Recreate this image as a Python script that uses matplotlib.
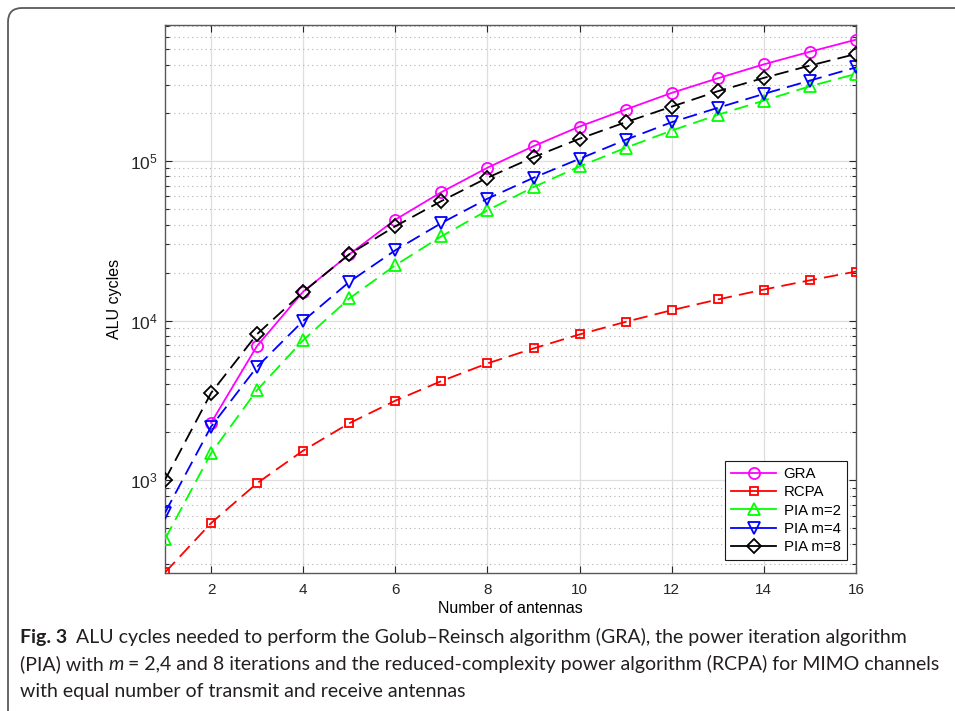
import numpy as np
import matplotlib.pyplot as plt
from matplotlib.patches import FancyBboxPatch
from matplotlib.ticker import LogLocator, NullFormatter, FixedLocator

plt.rcParams['font.family'] = ['Liberation Sans', 'DejaVu Sans']
plt.rcParams['mathtext.fontset'] = 'custom'
plt.rcParams['mathtext.rm'] = 'Liberation Sans'
plt.rcParams['mathtext.it'] = 'Liberation Sans:italic'

# Data
antennas = np.arange(1, 17)
gra_x = np.arange(2, 17)
gra = [2290, 6960, 15200, 26000, 42900, 63800, 90700, 123800,
       164300, 209900, 266900, 329300, 402700, 483000, 574700]
rcpa = [265, 540, 960, 1536, 2278, 3155, 4186, 5400, 6700, 8200,
        9830, 11630, 13570, 15660, 17900, 20300]
pia_m2 = [429, 1479, 3680, 7550, 13770, 22230, 33750, 49070, 68590,
          92400, 120900, 155000, 194400, 238800, 293400, 350800]
pia_m4 = [627, 2170, 5145, 9970, 17480, 27600, 40850, 58050, 78500,
          103200, 135700, 174800, 215100, 263000, 318500, 385500]
pia_m8 = [1007, 3524, 8240, 15130, 26050, 39000, 56100, 78500, 105600,
          137800, 174800, 218800, 273200, 331200, 395500, 467700]

fig = plt.figure(figsize=(9.55, 7.11), dpi=100)
ax = fig.add_axes([165/955, 1 - 573/711, (856 - 165)/955, (573 - 25)/711])

dash = (8, 4)
ax.plot(gra_x, gra, '-', color='magenta', lw=1.3, marker='o', ms=8,
        mfc='none', mew=1.3, label='GRA', zorder=3)
ax.plot(antennas, rcpa, '--', color='red', lw=1.3, dashes=dash, marker='s',
        ms=5.5, mfc='none', mew=1.3, label='RCPA', zorder=3)
ax.plot(antennas, pia_m2, '--', color=(0, 1, 0), lw=1.3, dashes=dash,
        marker='^', ms=9, mfc='none', mew=1.3, label='PIA m=2', zorder=3)
ax.plot(antennas, pia_m4, '--', color='blue', lw=1.3, dashes=dash,
        marker='v', ms=9, mfc='none', mew=1.3, label='PIA m=4', zorder=3)
ax.plot(antennas, pia_m8, '--', color='black', lw=1.3, dashes=dash,
        marker='D', ms=7, mfc='none', mew=1.3, label='PIA m=8', zorder=4)

ax.set_yscale('log')
ax.set_xlim(1, 16)
ax.set_ylim(263, 7.1e5)
ax.xaxis.set_major_locator(FixedLocator(np.arange(2, 17, 2)))
ax.yaxis.set_major_locator(FixedLocator([1e3, 1e4, 1e5]))
ax.yaxis.set_minor_locator(LogLocator(base=10, subs=np.arange(2, 10)))
ax.yaxis.set_minor_formatter(NullFormatter())
ax.set_yticklabels([r'$10^3$', r'$10^4$', r'$10^5$'])

ax.grid(True, which='major', color='0.87', lw=0.9, ls='-')
ax.grid(True, which='minor', axis='y', color='0.7', lw=0.8, ls=(0, (1, 3)))
ax.set_axisbelow(True)

ax.tick_params(which='both', direction='in', top=True, right=True,
               colors='0.15', labelsize=11)
ax.tick_params(axis='y', labelsize=12.5, pad=5)
ax.tick_params(which='major', length=5, width=0.8)
ax.tick_params(which='minor', length=3, width=0.8)
ax.tick_params(axis='x', pad=7)
for s in ax.spines.values():
    s.set_color('0.35')
    s.set_linewidth(1.0)

ax.set_xlabel('Number of antennas', fontsize=11.5, labelpad=3)
ax.set_ylabel('ALU cycles', fontsize=11.5, labelpad=6)

leg = ax.legend(loc='lower right', bbox_to_anchor=(0.9865, 0.0237),
                borderaxespad=0, fancybox=False, framealpha=1,
                edgecolor='0.1', fontsize=10.8, handlelength=3.0,
                handletextpad=0.5, labelspacing=0.28, borderpad=0.4)
leg.get_frame().set_linewidth(0.8)
for h in leg.get_lines():
    h.set_linestyle('-')

# rounded frame around the figure
fig.patches.append(FancyBboxPatch((8, -30), 1000, 711 - 8 + 30,
                                  boxstyle='round,pad=0,rounding_size=14',
                                  transform=None, fill=False,
                                  edgecolor='0.35', lw=1.3))

# caption
cap_font = dict(family=['Lato', 'DejaVu Sans'], fontsize=14, color='#231f20',
                va='baseline')
fig.canvas.draw()
r = fig.canvas.get_renderer()


def put(x, y, s, **kw):
    t = fig.text(x / 955, 1 - y / 711, s, **{**cap_font, **kw})
    bb = t.get_window_extent(renderer=r)
    return x + bb.width


x = put(20, 643, 'Fig. 3', fontweight='bold')
put(x + 9, 643, 'ALU cycles needed to perform the Golub\u2013Reinsch algorithm '
    '(GRA), the power iteration algorithm')
x = put(20, 670, '(PIA) with ')
x = put(x, 670, 'm', style='italic')
put(x + 4, 670, '= 2,4 and 8 iterations and the reduced-complexity power '
    'algorithm (RCPA) for MIMO channels')
put(20, 697, 'with equal number of transmit and receive antennas')

fig.savefig('out.png', dpi=100)
